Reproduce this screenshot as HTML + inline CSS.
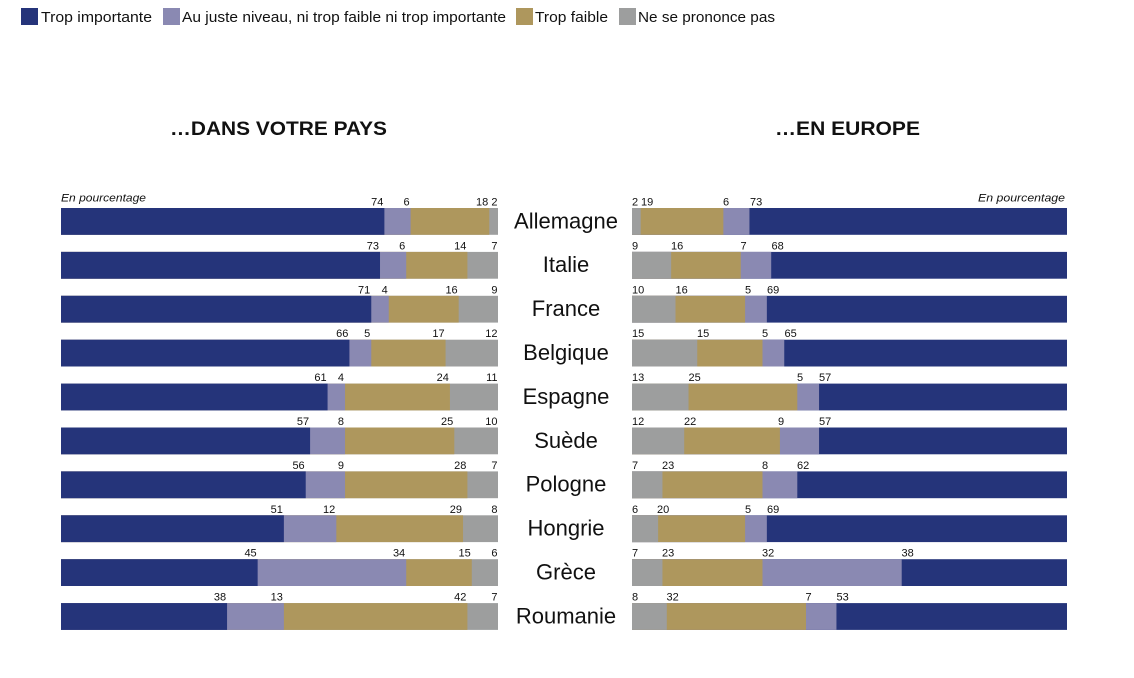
<!DOCTYPE html>
<html><head><meta charset="utf-8"><style>
html,body{margin:0;padding:0;background:#fff;}
svg{display:block;}
.n{font-family:"Liberation Sans",sans-serif;font-size:11px;fill:#111;}
.c{font-family:"Liberation Sans",sans-serif;font-size:22px;fill:#111;text-anchor:middle;}
.l{font-family:"Liberation Sans",sans-serif;font-size:15px;fill:#111;}
.t{font-family:"Liberation Sans",sans-serif;font-size:19.5px;font-weight:bold;fill:#111;}
.p{font-family:"Liberation Sans",sans-serif;font-size:11px;font-style:italic;fill:#111;}
.L text.n{text-anchor:end;}
</style></head><body>
<svg width="1134" height="678" viewBox="0 0 1134 678" xmlns="http://www.w3.org/2000/svg">
<rect x="21" y="8" width="17" height="17" fill="#25347a"/>
<text class="l" x="41" y="22" textLength="111" lengthAdjust="spacingAndGlyphs">Trop importante</text>
<rect x="163" y="8" width="17" height="17" fill="#8a89b2"/>
<text class="l" x="182" y="22" textLength="324" lengthAdjust="spacingAndGlyphs">Au juste niveau, ni trop faible ni trop importante</text>
<rect x="516" y="8" width="17" height="17" fill="#ae975d"/>
<text class="l" x="535" y="22" textLength="73" lengthAdjust="spacingAndGlyphs">Trop faible</text>
<rect x="619" y="8" width="17" height="17" fill="#9d9e9e"/>
<text class="l" x="638" y="22" textLength="137" lengthAdjust="spacingAndGlyphs">Ne se prononce pas</text>

<text class="t" x="170" y="135" textLength="217" lengthAdjust="spacingAndGlyphs">…DANS VOTRE PAYS</text>
<text class="t" x="775" y="135" textLength="145" lengthAdjust="spacingAndGlyphs">…EN EUROPE</text>
<text class="p" x="61" y="201.5" textLength="85" lengthAdjust="spacingAndGlyphs">En pourcentage</text>
<text class="p" x="978" y="201.5" textLength="87" lengthAdjust="spacingAndGlyphs">En pourcentage</text>

<g transform="translate(0,208)">
 <g class="L">
  <rect x="61" y="0" width="437" height="26.8" fill="#9d9e9e"/>
  <rect x="61" y="0" width="428.26" height="26.8" fill="#ae975d"/>
  <rect x="61" y="0" width="349.6" height="26.8" fill="#8a89b2"/>
  <rect x="61" y="0" width="323.38" height="26.8" fill="#25347a"/>
  <text class="n" x="383.4" y="-2.5">74</text><text class="n" x="409.6" y="-2.5">6</text><text class="n" x="488.3" y="-2.5">18</text><text class="n" x="497.5" y="-2.5">2</text>
 </g>
 <text class="c" x="566" y="20.3">Allemagne</text>
 <rect x="632" y="0" width="435" height="26.8" fill="#25347a"/>
 <rect x="632" y="0" width="117.45" height="26.8" fill="#8a89b2"/>
 <rect x="632" y="0" width="91.35" height="26.8" fill="#ae975d"/>
 <rect x="632" y="0" width="8.7" height="26.8" fill="#9d9e9e"/>
 <text class="n" x="632" y="-2.5">2</text><text class="n" x="641" y="-2.5">19</text><text class="n" x="723" y="-2.5">6</text><text class="n" x="750" y="-2.5">73</text>
</g>

<g transform="translate(0,251.9)">
 <g class="L">
  <rect x="61" y="0" width="437" height="26.8" fill="#9d9e9e"/>
  <rect x="61" y="0" width="406.41" height="26.8" fill="#ae975d"/>
  <rect x="61" y="0" width="345.23" height="26.8" fill="#8a89b2"/>
  <rect x="61" y="0" width="319.01" height="26.8" fill="#25347a"/>
  <text class="n" x="379" y="-2.5">73</text><text class="n" x="405.2" y="-2.5">6</text><text class="n" x="466.4" y="-2.5">14</text><text class="n" x="497.5" y="-2.5">7</text>
 </g>
 <text class="c" x="566" y="20.3">Italie</text>
 <rect x="632" y="0" width="435" height="26.8" fill="#25347a"/>
 <rect x="632" y="0" width="139.2" height="26.8" fill="#8a89b2"/>
 <rect x="632" y="0" width="108.75" height="26.8" fill="#ae975d"/>
 <rect x="632" y="0" width="39.15" height="26.8" fill="#9d9e9e"/>
 <text class="n" x="632" y="-2.5">9</text><text class="n" x="671" y="-2.5">16</text><text class="n" x="740.5" y="-2.5">7</text><text class="n" x="771.5" y="-2.5">68</text>
</g>

<g transform="translate(0,295.8)">
 <g class="L">
  <rect x="61" y="0" width="437" height="26.8" fill="#9d9e9e"/>
  <rect x="61" y="0" width="397.67" height="26.8" fill="#ae975d"/>
  <rect x="61" y="0" width="327.75" height="26.8" fill="#8a89b2"/>
  <rect x="61" y="0" width="310.27" height="26.8" fill="#25347a"/>
  <text class="n" x="370.3" y="-2.5">71</text><text class="n" x="387.8" y="-2.5">4</text><text class="n" x="457.7" y="-2.5">16</text><text class="n" x="497.5" y="-2.5">9</text>
 </g>
 <text class="c" x="566" y="20.3">France</text>
 <rect x="632" y="0" width="435" height="26.8" fill="#25347a"/>
 <rect x="632" y="0" width="134.85" height="26.8" fill="#8a89b2"/>
 <rect x="632" y="0" width="113.1" height="26.8" fill="#ae975d"/>
 <rect x="632" y="0" width="43.5" height="26.8" fill="#9d9e9e"/>
 <text class="n" x="632" y="-2.5">10</text><text class="n" x="675.5" y="-2.5">16</text><text class="n" x="745" y="-2.5">5</text><text class="n" x="767" y="-2.5">69</text>
</g>

<g transform="translate(0,339.7)">
 <g class="L">
  <rect x="61" y="0" width="437" height="26.8" fill="#9d9e9e"/>
  <rect x="61" y="0" width="384.56" height="26.8" fill="#ae975d"/>
  <rect x="61" y="0" width="310.27" height="26.8" fill="#8a89b2"/>
  <rect x="61" y="0" width="288.42" height="26.8" fill="#25347a"/>
  <text class="n" x="348.4" y="-2.5">66</text><text class="n" x="370.3" y="-2.5">5</text><text class="n" x="444.6" y="-2.5">17</text><text class="n" x="497.5" y="-2.5">12</text>
 </g>
 <text class="c" x="566" y="20.3">Belgique</text>
 <rect x="632" y="0" width="435" height="26.8" fill="#25347a"/>
 <rect x="632" y="0" width="152.25" height="26.8" fill="#8a89b2"/>
 <rect x="632" y="0" width="130.5" height="26.8" fill="#ae975d"/>
 <rect x="632" y="0" width="65.25" height="26.8" fill="#9d9e9e"/>
 <text class="n" x="632" y="-2.5">15</text><text class="n" x="697" y="-2.5">15</text><text class="n" x="762" y="-2.5">5</text><text class="n" x="784.5" y="-2.5">65</text>
</g>

<g transform="translate(0,383.6)">
 <g class="L">
  <rect x="61" y="0" width="437" height="26.8" fill="#9d9e9e"/>
  <rect x="61" y="0" width="388.93" height="26.8" fill="#ae975d"/>
  <rect x="61" y="0" width="284.05" height="26.8" fill="#8a89b2"/>
  <rect x="61" y="0" width="266.57" height="26.8" fill="#25347a"/>
  <text class="n" x="326.6" y="-2.5">61</text><text class="n" x="344" y="-2.5">4</text><text class="n" x="448.9" y="-2.5">24</text><text class="n" x="497.5" y="-2.5">11</text>
 </g>
 <text class="c" x="566" y="20.3">Espagne</text>
 <rect x="632" y="0" width="435" height="26.8" fill="#25347a"/>
 <rect x="632" y="0" width="187.05" height="26.8" fill="#8a89b2"/>
 <rect x="632" y="0" width="165.3" height="26.8" fill="#ae975d"/>
 <rect x="632" y="0" width="56.55" height="26.8" fill="#9d9e9e"/>
 <text class="n" x="632" y="-2.5">13</text><text class="n" x="688.5" y="-2.5">25</text><text class="n" x="797" y="-2.5">5</text><text class="n" x="819" y="-2.5">57</text>
</g>

<g transform="translate(0,427.5)">
 <g class="L">
  <rect x="61" y="0" width="437" height="26.8" fill="#9d9e9e"/>
  <rect x="61" y="0" width="393.3" height="26.8" fill="#ae975d"/>
  <rect x="61" y="0" width="284.05" height="26.8" fill="#8a89b2"/>
  <rect x="61" y="0" width="249.09" height="26.8" fill="#25347a"/>
  <text class="n" x="309.1" y="-2.5">57</text><text class="n" x="344" y="-2.5">8</text><text class="n" x="453.3" y="-2.5">25</text><text class="n" x="497.5" y="-2.5">10</text>
 </g>
 <text class="c" x="566" y="20.3">Suède</text>
 <rect x="632" y="0" width="435" height="26.8" fill="#25347a"/>
 <rect x="632" y="0" width="187.05" height="26.8" fill="#8a89b2"/>
 <rect x="632" y="0" width="147.9" height="26.8" fill="#ae975d"/>
 <rect x="632" y="0" width="52.2" height="26.8" fill="#9d9e9e"/>
 <text class="n" x="632" y="-2.5">12</text><text class="n" x="684" y="-2.5">22</text><text class="n" x="778" y="-2.5">9</text><text class="n" x="819" y="-2.5">57</text>
</g>

<g transform="translate(0,471.4)">
 <g class="L">
  <rect x="61" y="0" width="437" height="26.8" fill="#9d9e9e"/>
  <rect x="61" y="0" width="406.41" height="26.8" fill="#ae975d"/>
  <rect x="61" y="0" width="284.05" height="26.8" fill="#8a89b2"/>
  <rect x="61" y="0" width="244.72" height="26.8" fill="#25347a"/>
  <text class="n" x="304.7" y="-2.5">56</text><text class="n" x="344" y="-2.5">9</text><text class="n" x="466.4" y="-2.5">28</text><text class="n" x="497.5" y="-2.5">7</text>
 </g>
 <text class="c" x="566" y="20.3">Pologne</text>
 <rect x="632" y="0" width="435" height="26.8" fill="#25347a"/>
 <rect x="632" y="0" width="165.3" height="26.8" fill="#8a89b2"/>
 <rect x="632" y="0" width="130.5" height="26.8" fill="#ae975d"/>
 <rect x="632" y="0" width="30.45" height="26.8" fill="#9d9e9e"/>
 <text class="n" x="632" y="-2.5">7</text><text class="n" x="662" y="-2.5">23</text><text class="n" x="762" y="-2.5">8</text><text class="n" x="797" y="-2.5">62</text>
</g>

<g transform="translate(0,515.3)">
 <g class="L">
  <rect x="61" y="0" width="437" height="26.8" fill="#9d9e9e"/>
  <rect x="61" y="0" width="402.04" height="26.8" fill="#ae975d"/>
  <rect x="61" y="0" width="275.31" height="26.8" fill="#8a89b2"/>
  <rect x="61" y="0" width="222.87" height="26.8" fill="#25347a"/>
  <text class="n" x="282.9" y="-2.5">51</text><text class="n" x="335.3" y="-2.5">12</text><text class="n" x="462" y="-2.5">29</text><text class="n" x="497.5" y="-2.5">8</text>
 </g>
 <text class="c" x="566" y="20.3">Hongrie</text>
 <rect x="632" y="0" width="435" height="26.8" fill="#25347a"/>
 <rect x="632" y="0" width="134.85" height="26.8" fill="#8a89b2"/>
 <rect x="632" y="0" width="113.1" height="26.8" fill="#ae975d"/>
 <rect x="632" y="0" width="26.1" height="26.8" fill="#9d9e9e"/>
 <text class="n" x="632" y="-2.5">6</text><text class="n" x="657" y="-2.5">20</text><text class="n" x="745" y="-2.5">5</text><text class="n" x="767" y="-2.5">69</text>
</g>

<g transform="translate(0,559.2)">
 <g class="L">
  <rect x="61" y="0" width="437" height="26.8" fill="#9d9e9e"/>
  <rect x="61" y="0" width="410.78" height="26.8" fill="#ae975d"/>
  <rect x="61" y="0" width="345.23" height="26.8" fill="#8a89b2"/>
  <rect x="61" y="0" width="196.65" height="26.8" fill="#25347a"/>
  <text class="n" x="256.7" y="-2.5">45</text><text class="n" x="405.2" y="-2.5">34</text><text class="n" x="470.8" y="-2.5">15</text><text class="n" x="497.5" y="-2.5">6</text>
 </g>
 <text class="c" x="566" y="20.3">Grèce</text>
 <rect x="632" y="0" width="435" height="26.8" fill="#25347a"/>
 <rect x="632" y="0" width="269.7" height="26.8" fill="#8a89b2"/>
 <rect x="632" y="0" width="130.5" height="26.8" fill="#ae975d"/>
 <rect x="632" y="0" width="30.45" height="26.8" fill="#9d9e9e"/>
 <text class="n" x="632" y="-2.5">7</text><text class="n" x="662" y="-2.5">23</text><text class="n" x="762" y="-2.5">32</text><text class="n" x="901.5" y="-2.5">38</text>
</g>

<g transform="translate(0,603.1)">
 <g class="L">
  <rect x="61" y="0" width="437" height="26.8" fill="#9d9e9e"/>
  <rect x="61" y="0" width="406.41" height="26.8" fill="#ae975d"/>
  <rect x="61" y="0" width="222.87" height="26.8" fill="#8a89b2"/>
  <rect x="61" y="0" width="166.06" height="26.8" fill="#25347a"/>
  <text class="n" x="226.1" y="-2.5">38</text><text class="n" x="282.9" y="-2.5">13</text><text class="n" x="466.4" y="-2.5">42</text><text class="n" x="497.5" y="-2.5">7</text>
 </g>
 <text class="c" x="566" y="20.3">Roumanie</text>
 <rect x="632" y="0" width="435" height="26.8" fill="#25347a"/>
 <rect x="632" y="0" width="204.45" height="26.8" fill="#8a89b2"/>
 <rect x="632" y="0" width="174" height="26.8" fill="#ae975d"/>
 <rect x="632" y="0" width="34.8" height="26.8" fill="#9d9e9e"/>
 <text class="n" x="632" y="-2.5">8</text><text class="n" x="666.5" y="-2.5">32</text><text class="n" x="805.5" y="-2.5">7</text><text class="n" x="836.5" y="-2.5">53</text>
</g>
</svg>
</body></html>
